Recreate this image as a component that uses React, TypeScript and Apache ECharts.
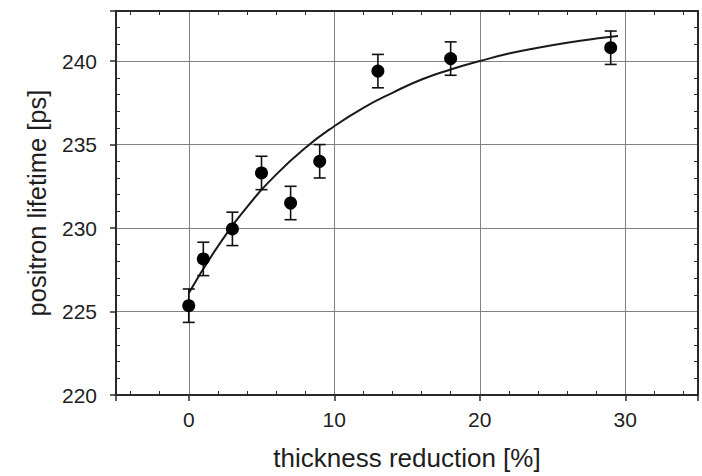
import React, { useEffect, useRef } from "react";
import * as echarts from "echarts";

const thickness = [0, 1, 3, 5, 7, 9, 13, 18, 29];
const lifetime = [225.35, 228.15, 229.95, 233.3, 231.5, 234.0, 239.4, 240.15, 240.8];
const errors = [1.0, 1.0, 1.0, 1.0, 1.0, 1.0, 1.0, 1.0, 1.0];

const fitX = [0, 2, 4, 6, 8, 10, 12, 14, 16, 18, 20, 22, 24, 26, 28, 29.5];
const fitY = [226.1, 228.9, 231.25, 233.2, 234.8, 236.1, 237.2, 238.1, 238.9, 239.5, 240.0, 240.45, 240.8, 241.1, 241.35, 241.5];

const xTickLabels = ["0", "10", "20", "30"];
const yTickLabels = ["220", "225", "230", "235", "240"];

const FONT = "Liberation Sans, Arial, sans-serif";
const TEXT = "#1e1e1e";
const FRAME = "#2a2a2a";

export default function App() {
  const ref = useRef<HTMLDivElement>(null);
  useEffect(() => {
    if (!ref.current) return;
    const chart = echarts.init(ref.current, null, { renderer: "svg" });
    const points = thickness.map((x, i) => [x, lifetime[i]]);
    const errData = thickness.map((x, i) => [x, lifetime[i] - errors[i], lifetime[i] + errors[i]]);
    const fit = fitX.map((x, i) => [x, fitY[i]]);
    const frameLine = { show: true, onZero: false, lineStyle: { color: FRAME, width: 2 } };
    chart.setOption({
      animation: false,
      backgroundColor: "#fff",
      grid: { left: 116, right: 4, top: 11, bottom: 81 },
      xAxis: [
        {
          type: "value",
          position: "bottom",
          min: -5,
          max: 35,
          splitNumber: 4,
          axisLine: frameLine,
          axisTick: { show: true, length: 6, lineStyle: { color: FRAME, width: 1.5 } },
          minorTick: { show: true, splitNumber: 5, length: -4, lineStyle: { color: FRAME, width: 1 } },
          splitLine: { show: true, lineStyle: { color: "#828282", width: 1 } },
          axisLabel: {
            margin: 14,
            fontSize: 21,
            fontFamily: FONT,
            color: TEXT,
            formatter: (v: number) => (xTickLabels.includes(String(v)) ? String(v) : ""),
          },
          name: "thickness reduction [%]",
          nameLocation: "middle",
          nameGap: 50,
          nameTextStyle: { fontSize: 26, fontFamily: FONT, color: TEXT },
        },
        {
          type: "value",
          position: "top",
          min: -5,
          max: 35,
          splitNumber: 4,
          axisLine: frameLine,
          axisTick: { show: false, inside: true },
          minorTick: { show: true, splitNumber: 5, length: 4, lineStyle: { color: FRAME, width: 1 } },
          splitLine: { show: false },
          axisLabel: { show: false },
        },
      ],
      yAxis: [
        {
          type: "value",
          position: "left",
          min: 220,
          max: 243,
          interval: 5,
          axisLine: frameLine,
          axisTick: { show: true, length: 6, lineStyle: { color: FRAME, width: 1.5 } },
          minorTick: { show: true, splitNumber: 5, length: -4, lineStyle: { color: FRAME, width: 1 } },
          splitLine: { show: true, lineStyle: { color: "#828282", width: 1 } },
          axisLabel: {
            margin: 19,
            fontSize: 21,
            fontFamily: FONT,
            color: TEXT,
            formatter: (v: number) => (yTickLabels.includes(String(v)) ? String(v) : ""),
          },
          name: "positron lifetime [ps]",
          nameLocation: "middle",
          nameGap: 66,
          nameTextStyle: { fontSize: 25.5, fontFamily: FONT, color: TEXT },
        },
        {
          type: "value",
          position: "right",
          min: 220,
          max: 243,
          interval: 5,
          axisLine: frameLine,
          axisTick: { show: false, inside: true },
          minorTick: { show: true, splitNumber: 5, length: 4, lineStyle: { color: FRAME, width: 1 } },
          splitLine: { show: false },
          axisLabel: { show: false },
        },
      ],
      series: [
        {
          type: "line",
          data: fit,
          smooth: true,
          showSymbol: false,
          symbol: "none",
          lineStyle: { color: "#1a1a1a", width: 2 },
          z: 2,
        },
        {
          type: "custom",
          data: errData,
          z: 3,
          renderItem: (params: any, api: any) => {
            const x = api.value(0);
            const lo = api.coord([x, api.value(1)]);
            const hi = api.coord([x, api.value(2)]);
            const w = 6;
            const style = { stroke: "#111", lineWidth: 1.6 };
            return {
              type: "group",
              children: [
                { type: "line", shape: { x1: lo[0], y1: lo[1], x2: hi[0], y2: hi[1] }, style },
                { type: "line", shape: { x1: lo[0] - w, y1: lo[1], x2: lo[0] + w, y2: lo[1] }, style },
                { type: "line", shape: { x1: hi[0] - w, y1: hi[1], x2: hi[0] + w, y2: hi[1] }, style },
              ],
            };
          },
        },
        {
          type: "scatter",
          data: points,
          symbol: "circle",
          symbolSize: 13,
          itemStyle: { color: "#000", opacity: 1 },
          z: 4,
        },
      ],
    });
    return () => chart.dispose();
  }, []);
  return <div ref={ref} style={{ width: 702, height: 476, position: "absolute", left: 0, top: 0 }} />;
}
